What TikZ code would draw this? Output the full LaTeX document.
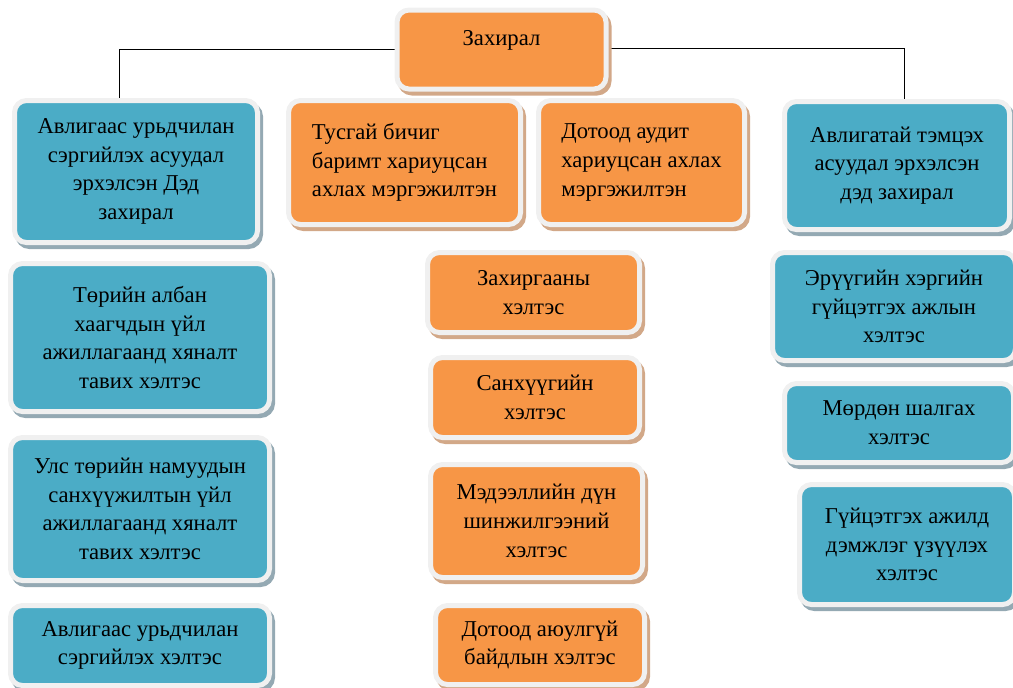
\documentclass[tikz,border=0pt]{standalone}
\usepackage{fontspec}
\setmainfont{Liberation Serif}
\usetikzlibrary{shadows,backgrounds}
\definecolor{orgfill}{HTML}{F79646}
\definecolor{orgshade}{HTML}{D2A888}
\definecolor{bluefill}{HTML}{4BACC6}
\definecolor{blueshade}{HTML}{94A9B3}
\definecolor{rimgray}{HTML}{F0F0F0}
\begin{document}
\begin{tikzpicture}[x=0.75pt,y=-0.75pt,line width=1pt,
    box/.style 2 args={rounded corners=9pt,draw=rimgray,line width=3.75pt,align=center,inner sep=0pt,
      minimum width=#1*0.75pt,minimum height=#2*0.75pt,font=\fontsize{17}{21.5}\selectfont},
    org/.style 2 args={box={#1}{#2},fill=orgfill,
      drop shadow={shadow xshift=2.25pt,shadow yshift=-3pt,fill=orgshade,draw=orgshade,opacity=1}},
    blu/.style 2 args={box={#1}{#2},fill=bluefill,
      drop shadow={shadow xshift=2.25pt,shadow yshift=-3pt,fill=blueshade,draw=blueshade,opacity=1}}]
  \useasboundingbox (0,0) rectangle (1013,687);
  % top
  \node[org={209}{79},text height=12pt,text depth=18pt] (zah) at (501.5,49.5) {Захирал};
  % second row
  \node[blu={243}{142}] (dep1) at (136,171.5) {Авлигаас урьдчилан\\сэргийлэх асуудал\\эрхэлсэн Дэд\\захирал};
  \node[org={232}{124},align=left] (sp1) at (404.5,162.5) {Тусгай бичиг\\баримт хариуцсан\\ахлах мэргэжилтэн};
  \node[org={206}{124},align=left] (sp2) at (641.5,162.5) {Дотоод аудит\\хариуцсан ахлах\\мэргэжилтэн};
  \node[blu={225}{128}] (dep2) at (897,165.5) {Авлигатай тэмцэх\\асуудал эрхэлсэн\\дэд захирал};
  % left column
  \node[blu={259}{148}] (l1) at (140,337.5) {Төрийн албан\\хаагчдын үйл\\ажиллагаанд хяналт\\тавих хэлтэс};
  \node[blu={259}{143}] (l2) at (140,509) {Улс төрийн намуудын\\санхүүжилтын үйл\\ажиллагаанд хяналт\\тавих хэлтэс};
  \node[blu={259}{80}] (l3) at (140,645.5) {Авлигаас урьдчилан\\сэргийлэх хэлтэс};
  % middle column
  \node[org={212}{80}] (m1) at (533.5,292.5) {Захиргааны\\хэлтэс};
  \node[org={209}{80}] (m2) at (535,397.5) {Санхүүгийн\\хэлтэс};
  \node[org={212}{113}] (m3) at (536.5,521) {Мэдээллийн дүн\\шинжилгээний\\хэлтэс};
  \node[org={209}{79}] (m4) at (540,645) {Дотоод аюулгүй\\байдлын хэлтэс};
  % right column
  \node[blu={243}{108}] (r1) at (894,306.5) {Эрүүгийн хэргийн\\гүйцэтгэх ажлын\\хэлтэс};
  \node[blu={229}{79}] (r2) at (899,423) {Мөрдөн шалгах\\хэлтэс};
  \node[blu={215}{120}] (r3) at (907,544.5) {Гүйцэтгэх ажилд\\дэмжлэг үзүүлэх\\хэлтэс};
  \begin{scope}[on background layer]
    \draw (zah.west) -| ([xshift=-12.4pt]dep1.north);
    \draw ([yshift=1pt]zah.east) -| ([xshift=5.25pt]dep2.north);
  \end{scope}
\end{tikzpicture}
\end{document}
